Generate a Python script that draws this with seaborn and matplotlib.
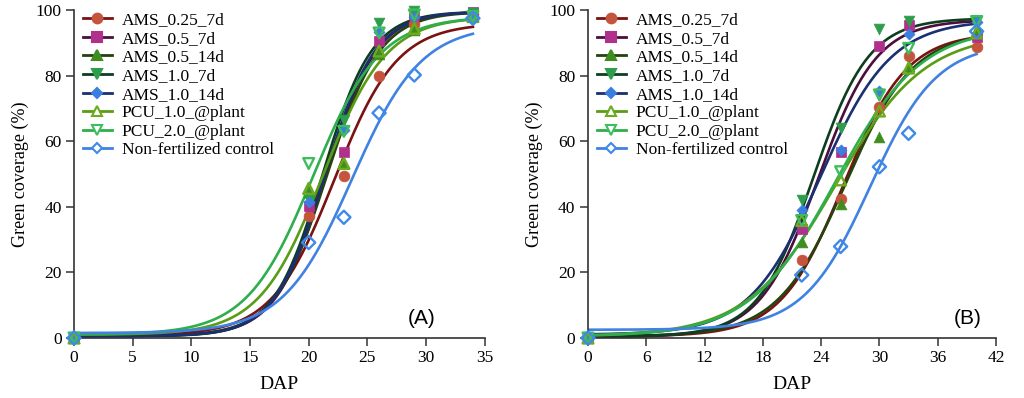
import numpy as np
import pandas as pd
import matplotlib
matplotlib.use("Agg")
import matplotlib.pyplot as plt
from matplotlib.lines import Line2D
import seaborn as sns

## data
names = ["AMS_0.25_7d", "AMS_0.5_7d", "AMS_0.5_14d", "AMS_1.0_7d", "AMS_1.0_14d",
         "PCU_1.0_@plant", "PCU_2.0_@plant", "Non-fertilized control"]

dap_a = [0, 20, 23, 26, 29, 34]
cov_a = {
    "AMS_0.25_7d":            [0, 37.2, 49.5, 80.0, 95.7, 98.8],
    "AMS_0.5_7d":             [0, 40.2, 56.8, 90.6, 98.5, 99.5],
    "AMS_0.5_14d":            [0, 44.5, 53.5, 86.5, 94.0, 98.5],
    "AMS_1.0_7d":             [0, 42.0, 66.5, 96.1, 99.8, 99.0],
    "AMS_1.0_14d":            [0, 41.5, 63.4, 93.4, 98.0, 98.0],
    "PCU_1.0_@plant":         [0, 45.6, 53.2, 87.5, 94.4, 98.0],
    "PCU_2.0_@plant":         [0, 53.2, 63.0, 93.0, 98.5, 98.0],
    "Non-fertilized control": [0, 29.1, 36.8, 68.6, 80.2, 97.5],
}

dap_b = [0, 22, 26, 30, 33, 40]
cov_b = {
    "AMS_0.25_7d":            [0, 23.8, 42.5, 70.3, 86.0, 88.8],
    "AMS_0.5_7d":             [0, 33.2, 56.7, 89.1, 95.4, 91.9],
    "AMS_0.5_14d":            [0, 29.2, 40.8, 61.4, 82.8, 94.1],
    "AMS_1.0_7d":             [0, 42.0, 63.9, 94.1, 96.8, 96.8],
    "AMS_1.0_14d":            [0, 39.0, 57.3, 75.4, 92.6, 96.3],
    "PCU_1.0_@plant":         [0, 35.8, 48.2, 69.2, 82.3, 93.0],
    "PCU_2.0_@plant":         [0, 35.8, 50.7, 74.1, 88.3, 96.5],
    "Non-fertilized control": [0, 19.2, 27.9, 52.2, 62.4, 93.5],
}

# sigmoid fit parameters (bottom, top, x50, slope) estimated from the fitted curves
bottom_a = [0.8, 0.6, 0.6, 0.5, 0.6, 1.0, 1.0, 1.5]
top_a    = [96.0, 99.5, 99.5, 99.5, 99.5, 98.0, 98.0, 95.5]
x50_a    = [22.2, 21.5, 21.6, 21.2, 21.4, 21.2, 20.4, 23.7]
slope_a  = [2.67, 2.15, 2.25, 2.10, 2.15, 2.70, 2.83, 2.94]

bottom_b = [0.5, 0.3, 0.5, 0.5, 1.0, 0.5, 0.5, 2.5]
top_b    = [93.0, 97.0, 93.5, 97.5, 97.0, 93.0, 95.0, 90.0]
x50_b    = [26.3, 23.7, 26.5, 23.2, 23.9, 25.5, 25.5, 29.06]
slope_b  = [3.25, 3.00, 3.50, 2.86, 3.65, 4.55, 4.40, 3.42]

## styles
line_col = ["#7a1212", "#4a0f3c", "#26420f", "#0f3d20", "#1b2f72", "#5a9c16", "#2eae4c", "#3f82e2"]
mark_col = ["#c4553c", "#b0308c", "#3f8c1f", "#2e9e4c", "#3a7fe0", "#6cab1e", "#3dbd5c", "#3f8ae8"]
marks    = ["o", "s", "^", "v", "D", "^", "v", "D"]
msize    = [60, 55, 60, 60, 32, 60, 60, 45]
filled   = [True, True, True, True, True, False, False, False]

plt.rcParams["font.family"] = ["Liberation Serif", "DejaVu Serif"]


def sigmoid(x, b, t, x50, s):
    return b + (t - b) / (1 + np.exp(-(x - x50) / s))


fig = plt.figure(figsize=(10.24, 3.98), dpi=100)
ax_a = fig.add_axes([0.0723, 0.1508, 0.401, 0.824])
ax_b = fig.add_axes([0.5742, 0.1508, 0.3985, 0.824])

panels = [
    (ax_a, dap_a, cov_a, bottom_a, top_a, x50_a, slope_a, 35, 5, "(A)", 29.6),
    (ax_b, dap_b, cov_b, bottom_b, top_b, x50_b, slope_b, 42, 6, "(B)", 39.1),
]

for ax, dap, cov, bb, tt, xx, ss, xmax, xstep, tag, tag_x in panels:
    xs = np.linspace(0, dap[-1], 300)
    for i, n in enumerate(names):
        curve = pd.DataFrame({"DAP": xs, "cov": sigmoid(xs, bb[i], tt[i], xx[i], ss[i])})
        sns.lineplot(data=curve, x="DAP", y="cov", color=line_col[i], lw=1.9, ax=ax, zorder=2)
    for i, n in enumerate(names):
        pts = pd.DataFrame({"DAP": dap, "cov": cov[n]})
        if filled[i]:
            sns.scatterplot(data=pts, x="DAP", y="cov", marker=marks[i], s=msize[i],
                            color=mark_col[i], edgecolor=mark_col[i], linewidth=0.5,
                            ax=ax, zorder=3, clip_on=False)
        else:
            sns.scatterplot(data=pts, x="DAP", y="cov", marker=marks[i], s=msize[i],
                            facecolor="none", edgecolor=mark_col[i], linewidth=1.7,
                            ax=ax, zorder=3, clip_on=False)

    ax.set_xlim(0, xmax)
    ax.set_ylim(0, 100)
    ax.set_xticks(np.arange(0, xmax + 1, xstep))
    ax.set_yticks(np.arange(0, 101, 20))
    ax.tick_params(labelsize=12.5, length=6, width=1.1, color="#333333", pad=3)
    for sp in ["top", "right"]:
        ax.spines[sp].set_visible(False)
    for sp in ["left", "bottom"]:
        ax.spines[sp].set_linewidth(1.2)
        ax.spines[sp].set_color("#333333")
    ax.set_xlabel("DAP", fontsize=14, labelpad=7)
    ax.set_ylabel("Green coverage (%)", fontsize=13, labelpad=5)
    ax.text(tag_x, 6, tag, fontsize=15, family="Liberation Sans", ha="center", va="center")

    handles = [Line2D([0], [0], color=line_col[i], lw=2, marker=marks[i],
                      markersize=7 if marks[i] != "D" else 5,
                      markerfacecolor=mark_col[i] if filled[i] else "white",
                      markeredgecolor=mark_col[i], markeredgewidth=1.5)
               for i in range(len(names))]
    ax.legend(handles, names, loc="upper left", bbox_to_anchor=(0.0, 1.02), frameon=False,
              fontsize=12.5, handlelength=1.7, handletextpad=0.55, labelspacing=0.14,
              borderpad=0.2, borderaxespad=0.3)

plt.savefig("out.png", dpi=100)
